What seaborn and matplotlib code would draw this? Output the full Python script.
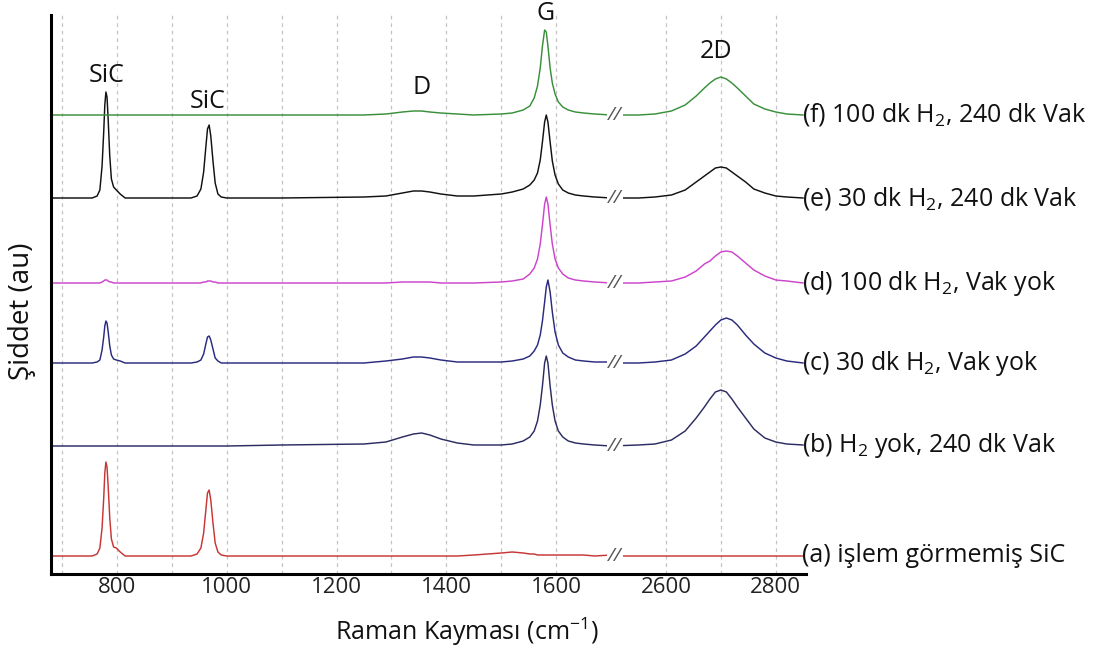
import numpy as np
import pandas as pd
import matplotlib
matplotlib.use("Agg")
import matplotlib.pyplot as plt
import seaborn as sns

# ---------------- data ----------------
WAVENUMBER = [680, 720, 755, 764, 769, 773, 776, 778, 780, 782, 784, 787, 790, 794, 799, 806, 815,
              900, 935, 946, 953, 958, 962, 965, 968, 971, 975, 979, 984, 990, 1000,
              1100, 1250, 1290, 1320, 1340, 1355, 1370, 1390, 1420, 1450,
              1500, 1520, 1540, 1552, 1560, 1566, 1571, 1575, 1579, 1582, 1585, 1589, 1593, 1598,
              1604, 1612, 1622, 1635, 1650, 1670, 1700,
              2500, 2550, 2580, 2610, 2635, 2655, 2670, 2680, 2690, 2700, 2710, 2720, 2730, 2745,
              2760, 2780, 2800, 2820, 2850]

# intensities above each spectrum's own baseline (au)
INT_A = [0, 0, 0, 2, 8, 28, 58, 83, 94, 89, 71, 38, 17, 9, 8, 4, 0,
         0, 0, 2, 8, 23, 46, 63, 66, 56, 33, 13, 4, 1, 0,
         0, 0, 0, 0, 0, 0, 0, 0, 0, 1,
         3, 4, 3, 2, 2, 1, 1, 1, 1, 1, 1, 1, 1, 1, 1, 1, 1, 1, 1, 0, 1,
         0, 0, 0, 0, 0, 0, 0, 0, 0, 0, 0, 0, 0, 0, 0, 0, 0, 0, 0]
INT_B = [0, 0, 0, 0, 0, 0, 0, 0, 0, 0, 0, 0, 0, 0, 0, 0, 0,
         0, 0, 0, 0, 0, 0, 0, 0, 0, 0, 0, 0, 0, 0,
         1, 2, 4, 9, 12, 13, 11, 7, 3, 1,
         1, 2, 5, 9, 15, 25, 41, 60, 83, 90, 83, 60, 41, 25, 15, 9, 5, 3, 2, 1, 0,
         0, 1, 2, 6, 15, 28, 39, 47, 54, 56, 54, 47, 39, 28, 17, 8, 4, 2, 1]
INT_C = [0, 0, 0, 1, 3, 13, 26, 37, 42, 40, 32, 17, 8, 4, 3, 2, 0,
         0, 0, 1, 3, 9, 19, 26, 27, 23, 14, 5, 2, 0, 0,
         0, 0, 2, 4, 6, 6, 5, 3, 1, 1,
         1, 2, 4, 7, 12, 18, 28, 42, 61, 76, 83, 71, 51, 31, 18, 10, 6, 3, 2, 1, 1,
         0, 0, 1, 3, 9, 17, 26, 32, 38, 43, 45, 43, 38, 28, 19, 10, 5, 2, 0]
INT_D = [0, 0, 0, 0, 0, 1, 2, 3, 3, 3, 2, 1, 1, 0, 0, 0, 0,
         0, 0, 0, 0, 1, 1, 2, 2, 2, 1, 1, 0, 0, 0,
         0, 0, 0, 1, 1, 1, 1, 0, 0, 0,
         1, 2, 4, 9, 15, 24, 39, 58, 79, 86, 79, 58, 39, 24, 15, 9, 5, 3, 2, 1, 0,
         0, 0, 1, 2, 6, 12, 19, 22, 27, 31, 32, 31, 27, 20, 13, 7, 3, 2, 0]
INT_E = [0, 0, 0, 2, 8, 32, 66, 93, 106, 101, 80, 42, 19, 11, 8, 4, 0,
         0, 0, 2, 9, 26, 51, 69, 73, 62, 37, 15, 4, 1, 0,
         0, 1, 2, 5, 7, 7, 6, 4, 2, 2,
         4, 6, 9, 13, 18, 25, 38, 56, 76, 83, 76, 56, 37, 23, 14, 8, 5, 3, 2, 1, 0,
         0, 0, 1, 3, 8, 16, 22, 26, 30, 31, 30, 26, 22, 16, 9, 5, 2, 1, 0]
INT_F = [0, 0, 0, 0, 0, 0, 0, 0, 0, 0, 0, 0, 0, 0, 0, 0, 0,
         0, 0, 0, 0, 0, 0, 0, 0, 0, 0, 0, 0, 0, 0,
         0, 0, 1, 3, 4, 4, 3, 2, 1, 0,
         1, 2, 5, 9, 17, 29, 47, 69, 85, 83, 69, 47, 32, 21, 13, 8, 5, 3, 2, 1, 0,
         0, 0, 1, 4, 10, 19, 27, 32, 36, 38, 36, 32, 27, 19, 11, 6, 3, 1, 0]

SERIES_KEYS = ["a", "b", "c", "d", "e", "f"]
SERIES_INT = [INT_A, INT_B, INT_C, INT_D, INT_E, INT_F]
SERIES_LABELS = ["(a) işlem görmemiş SiC",
                 "(b) H$_2$ yok, 240 dk Vak",
                 "(c) 30 dk H$_2$, Vak yok",
                 "(d) 100 dk H$_2$, Vak yok",
                 "(e) 30 dk H$_2$, 240 dk Vak",
                 "(f) 100 dk H$_2$, 240 dk Vak"]
PEAK_LABELS = ["SiC", "SiC", "D", "G", "2D"]
TICK_VALUES = [800, 1000, 1200, 1400, 1600, 2600, 2800]
GRID_VALUES = [700, 800, 900, 1000, 1100, 1200, 1300, 1400, 1500, 1600, 2600, 2700, 2800]

# ---------------- layout / style ----------------
BASELINES = [18, 128, 211, 291, 376, 459]          # vertical stacking offsets
COLORS = ["#c83535", "#2c2c62", "#2a2a7e", "#cc44cc", "#111111", "#3a8f3a"]
BREAK_LO, BREAK_HI = 1700, 2500
PEAK_POS = [(782, 499), (966, 472), (1355, 486), (1580, 560), (1891, 522)]

for arr in SERIES_INT:
    assert len(arr) == len(WAVENUMBER)


def to_plot(x):
    x = np.asarray(x, dtype=float)
    return np.where(x <= BREAK_LO, x, x - (BREAK_HI - BREAK_LO))


rows = []
for key, ints, base in zip(SERIES_KEYS, SERIES_INT, BASELINES):
    for w, v in zip(WAVENUMBER, ints):
        rows.append({"series": key, "wn": w, "y": base + v})
df = pd.DataFrame(rows)
df["xp"] = to_plot(df["wn"])

sns.set_theme(style="white")
FONT = ["Open Sans", "DejaVu Sans"]
plt.rcParams["font.family"] = FONT
plt.rcParams["mathtext.fontset"] = "custom"
plt.rcParams["mathtext.rm"] = "Open Sans"
plt.rcParams["mathtext.it"] = "Open Sans:italic"
plt.rcParams["mathtext.bf"] = "Open Sans:bold"

fig = plt.figure(figsize=(11.01, 6.51), dpi=100)
ax = fig.add_axes([51 / 1101, 1 - 574 / 651, 755 / 1101, 559 / 651])

sns.lineplot(data=df, x="xp", y="y", hue="series", palette=dict(zip(SERIES_KEYS, COLORS)),
             estimator=None, sort=False, legend=False, linewidth=1.05, ax=ax)

ax.set_xlim(680, 2055)
ax.set_ylim(0, 559)

ax.set_xticks(to_plot(TICK_VALUES))
ax.set_xticklabels([str(t) for t in TICK_VALUES], fontsize=16)
ax.tick_params(axis="x", which="both", length=0, pad=2, colors="#222222")
ax.set_yticks([])
ax.grid(False)
for gx in to_plot(GRID_VALUES):
    ax.axvline(gx, color="#c4c4c4", lw=0.9, ls=(0, (3, 3)), zorder=0)

for s in ["top", "right"]:
    ax.spines[s].set_visible(False)
for s in ["left", "bottom"]:
    ax.spines[s].set_color("black")
    ax.spines[s].set_linewidth(2.2)

ax.set_xlabel("")
ax.set_ylabel("")

# break markers
for base in BASELINES:
    ax.text(BREAK_LO + 7, base, "//", ha="center", va="center", fontsize=14, color="#555555",
            style="italic", bbox=dict(facecolor="white", edgecolor="none", pad=0.5), zorder=5)

# series labels
xend = float(to_plot([WAVENUMBER[-1]])[0])
for lab, base in zip(SERIES_LABELS, BASELINES):
    ax.text(xend - 3, base, lab, ha="left", va="center", fontsize=18, color="#111111",
            clip_on=False)

# peak labels
for lab, (px, py) in zip(PEAK_LABELS, PEAK_POS):
    ax.text(px, py, lab, ha="center", va="center", fontsize=18, color="#111111", clip_on=False)

fig.text(467 / 1101, 1 - 632 / 651, "Raman Kayması (cm$^{-1}$)", ha="center", va="center",
         fontsize=18, color="#111111")
fig.text(22 / 1101, 1 - 311 / 651, "Şiddet (au)", ha="center", va="center", rotation=90,
         fontsize=20, color="#111111")

fig.savefig("out.png", dpi=100)
